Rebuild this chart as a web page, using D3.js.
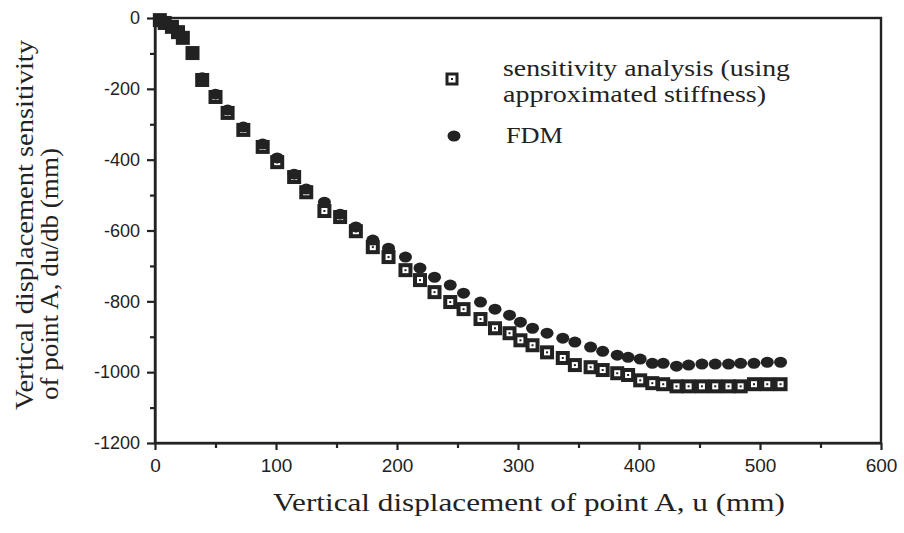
<!DOCTYPE html>
<html>
<head>
<meta charset="utf-8">
<script src="https://cdn.jsdelivr.net/npm/d3@7"></script>
<style>
  body { margin: 0; background: #fff; }
  svg { display: block; }
  .tick text { font-family: "Liberation Sans", Arial, sans-serif; font-size: 18px; fill: #222; }
  .x-axis .tick text { font-size: 19px; }
  .domain, .tick line { stroke: #222; stroke-width: 2.2px; }
  .title { font-family: "Liberation Serif", "Times New Roman", serif; font-size: 26px; fill: #222; }
  .legend-text { font-family: "Liberation Serif", "Times New Roman", serif; font-size: 23px; fill: #222; }
</style>
</head>
<body>
<div id="chart"></div>
<script>
// Displacement u (mm), shared by both series
const uValues = [4, 8, 14, 19, 23, 31, 39, 50, 60, 73, 89, 101, 115, 125, 140, 153, 166, 180, 193, 207,
  219, 231, 244, 255, 269, 281, 293, 302, 312, 324, 337, 347, 360, 370, 382, 391, 401, 411, 420, 431,
  441, 452, 463, 474, 484, 495, 506, 517];

// du/db from sensitivity analysis (approximated stiffness)
const sensValues = [-6, -14, -25, -40, -56, -99, -175, -223, -268, -316, -364, -407, -449, -492, -545, -562,
  -602, -647, -675, -712, -740, -774, -802, -822, -850, -876, -890, -910, -924, -944, -960, -980,
  -986, -994, -1003, -1008, -1023, -1031, -1034, -1040, -1040, -1040, -1040, -1040, -1040, -1034, -1034, -1034];

// du/db from FDM
const fdmValues = [-6, -14, -25, -40, -56, -96, -169, -215, -260, -308, -356, -395, -441, -483, -520, -554,
  -590, -627, -650, -675, -706, -732, -754, -777, -802, -822, -839, -859, -876, -890, -904, -915,
  -929, -941, -952, -958, -963, -975, -975, -983, -980, -977, -977, -977, -975, -975, -972, -972];

const xTicks = [0, 100, 200, 300, 400, 500, 600];
const xMinorTicks = [50, 150, 250, 350, 450, 550];
const yTicks = [0, -200, -400, -600, -800, -1000, -1200];
const yMinorTicks = [-100, -300, -500, -700, -900, -1100];

const width = 904, height = 533;
const ink = "#222";

const svg = d3.select("#chart").append("svg")
  .attr("width", width)
  .attr("height", height);

const x = d3.scaleLinear().domain([0, 600]).range([155, 881]);
const y = d3.scaleLinear().domain([-1200, 0]).range([443, 18]);

// minor ticks first, then major axes on top
svg.append("g")
  .attr("transform", `translate(0,${y(-1200)})`)
  .call(d3.axisBottom(x).tickValues(xMinorTicks).tickSize(5).tickFormat(""))
  .select(".domain").remove();
svg.append("g")
  .attr("transform", `translate(${x(0)},0)`)
  .call(d3.axisLeft(y).tickValues(yMinorTicks).tickSize(5).tickFormat(""))
  .select(".domain").remove();

svg.append("g")
  .attr("class", "x-axis")
  .attr("transform", `translate(0,${y(-1200)})`)
  .call(d3.axisBottom(x).tickValues(xTicks).tickSize(7).tickSizeOuter(0).tickPadding(9).tickFormat(d => String(d)));

svg.append("g")
  .attr("transform", `translate(${x(0)},0)`)
  .call(d3.axisLeft(y).tickValues(yTicks).tickSize(8).tickSizeOuter(0).tickPadding(7).tickFormat(d => String(d)));

// frame around the plot
svg.append("rect")
  .attr("x", x(0)).attr("y", y(0))
  .attr("width", x(600) - x(0)).attr("height", y(-1200) - y(0))
  .attr("fill", "none").attr("stroke", ink).attr("stroke-width", 2.4);

// axis titles - the scanned type is wider than Liberation Serif, stretch to the same width
svg.append("text")
  .attr("class", "title")
  .attr("x", 273)
  .attr("y", 511)
  .attr("textLength", 512)
  .attr("lengthAdjust", "spacingAndGlyphs")
  .text("Vertical displacement of point A, u (mm)");

const yTitle = svg.append("text")
  .attr("class", "title")
  .attr("transform", "translate(33,410) rotate(-90)");
yTitle.append("tspan").attr("x", 0).attr("y", 0)
  .attr("textLength", 370).attr("lengthAdjust", "spacingAndGlyphs")
  .text("Vertical displacement sensitivity");
yTitle.append("tspan").attr("x", 10).attr("y", 25)
  .attr("textLength", 252).attr("lengthAdjust", "spacingAndGlyphs")
  .text("of point A, du/db (mm)");

const points = uValues.map((u, i) => ({ u, s: sensValues[i], f: fdmValues[i] }));

// square markers: thick outline with a dot inside
const sq = 10;
const squares = svg.append("g").selectAll("g")
  .data(points)
  .join("g")
  .attr("transform", d => `translate(${x(d.u)},${y(d.s)})`);
squares.append("rect")
  .attr("x", -sq / 2).attr("y", -sq / 2)
  .attr("width", sq).attr("height", sq)
  .attr("fill", "#fff").attr("stroke", ink).attr("stroke-width", 4);
squares.append("rect")
  .attr("x", -1).attr("y", -1).attr("width", 2).attr("height", 2)
  .attr("fill", ink);

// FDM markers
svg.append("g").selectAll("ellipse")
  .data(points)
  .join("ellipse")
  .attr("cx", d => x(d.u))
  .attr("cy", d => y(d.f))
  .attr("rx", 6.5).attr("ry", 5.5)
  .attr("fill", ink);

// legend
const legend = svg.append("g");
const lg1 = legend.append("g").attr("transform", "translate(452,79)");
lg1.append("rect")
  .attr("x", -sq / 2).attr("y", -sq / 2).attr("width", sq).attr("height", sq)
  .attr("fill", "#fff").attr("stroke", ink).attr("stroke-width", 3);
lg1.append("rect").attr("x", -1).attr("y", -1).attr("width", 2).attr("height", 2).attr("fill", ink);
legend.append("ellipse")
  .attr("cx", 454).attr("cy", 136).attr("rx", 6.5).attr("ry", 5.5).attr("fill", ink);

legend.append("text").attr("class", "legend-text")
  .attr("x", 503).attr("y", 76)
  .attr("textLength", 287).attr("lengthAdjust", "spacingAndGlyphs")
  .text("sensitivity analysis (using");
legend.append("text").attr("class", "legend-text")
  .attr("x", 503).attr("y", 102)
  .attr("textLength", 263).attr("lengthAdjust", "spacingAndGlyphs")
  .text("approximated stiffness)");
legend.append("text").attr("class", "legend-text")
  .attr("x", 506).attr("y", 143)
  .attr("textLength", 57).attr("lengthAdjust", "spacingAndGlyphs")
  .text("FDM");
</script>
</body>
</html>
